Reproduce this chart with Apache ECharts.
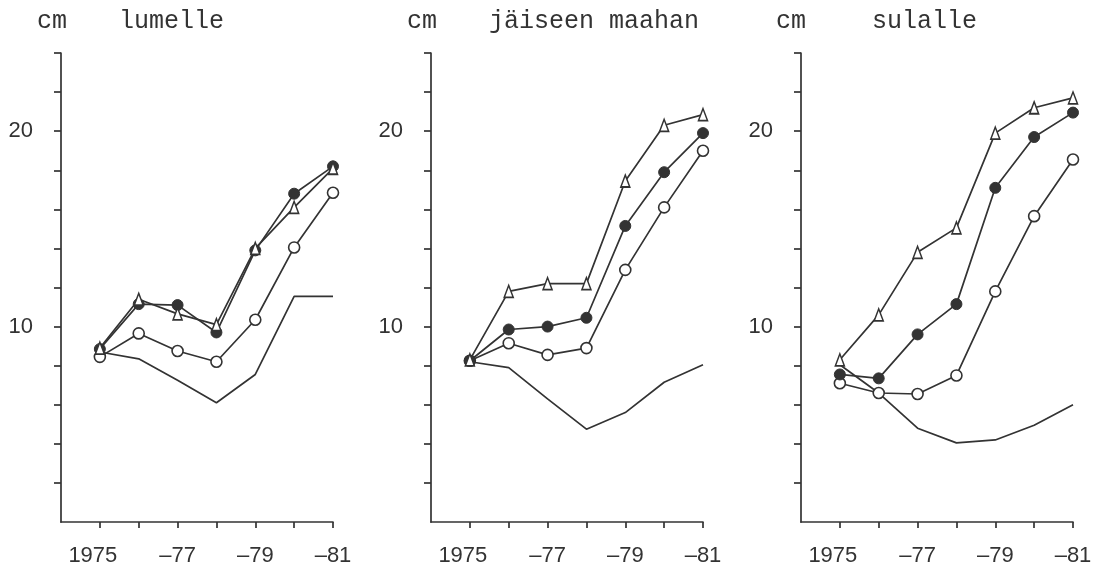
<!DOCTYPE html>
<html>
<head>
<meta charset="utf-8">
<script src="https://cdn.jsdelivr.net/npm/echarts@6/dist/echarts.min.js"></script>
<style>
  html, body { margin: 0; padding: 0; background: #fff; }
  #chart { width: 1104px; height: 572px; }
</style>
</head>
<body>
<div id="chart"></div>
<script>
// Years on the horizontal axis
const years = [1975, 1976, 1977, 1978, 1979, 1980, 1981];
const xTickValues = [1975, 1976, 1977, 1978, 1979, 1980, 1981];
const xLabelValues = [1975, 1977, 1979, 1981];
const yTickValues = [2, 4, 6, 8, 10, 12, 14, 16, 18, 20, 22, 24];
const yLabelValues = [10, 20];

// Panel titles
const panelTitles = ['lumelle', 'jäiseen maahan', 'sulalle'];
const unitLabel = 'cm';

// lumelle (cm)
const lumellePlain  = [8.7, 8.35, 7.25, 6.1, 7.55, 11.55, 11.55];
const lumelleOpen   = [8.45, 9.65, 8.75, 8.2, 10.35, 14.05, 16.85];
const lumelleFilled = [8.85, 11.15, 11.1, 9.7, 13.9, 16.8, 18.2];
const lumelleTri    = [8.9, 11.4, 10.65, 10.1, 14.0, 16.1, 18.1];

// jäiseen maahan (cm)
const jaiseenPlain  = [8.2, 7.9, 6.3, 4.75, 5.6, 7.15, 8.05];
const jaiseenOpen   = [8.25, 9.15, 8.55, 8.9, 12.9, 16.1, 19.0];
const jaiseenFilled = [8.25, 9.85, 10.0, 10.45, 15.15, 17.9, 19.9];
const jaiseenTri    = [8.3, 11.8, 12.2, 12.2, 17.45, 20.3, 20.85];

// sulalle (cm)
const sulallePlain  = [8.05, 6.6, 4.8, 4.05, 4.2, 4.95, 6.0];
const sulalleOpen   = [7.1, 6.6, 6.55, 7.5, 11.8, 15.65, 18.55];
const sulalleFilled = [7.55, 7.35, 9.6, 11.15, 17.1, 19.7, 20.95];
const sulalleTri    = [8.3, 10.6, 13.8, 15.05, 19.9, 21.2, 21.7];

const panels = [
  [lumellePlain, lumelleOpen, lumelleFilled, lumelleTri],
  [jaiseenPlain, jaiseenOpen, jaiseenFilled, jaiseenTri],
  [sulallePlain, sulalleOpen, sulalleFilled, sulalleTri]
];

const ink = '#333';
const textInk = '#333';
const gridLefts = [61, 431, 801];
const unitLefts = [37, 407, 776];
const titleLefts = [119, 489, 872];

const zip = (arr) => years.map((y, i) => [y, arr[i]]);

const grids = [], xAxes = [], yAxes = [], series = [], titles = [];

panels.forEach((p, k) => {
  grids.push({ left: gridLefts[k], top: 53, width: 272, height: 469 });
  xAxes.push({
    type: 'value', gridIndex: k, min: 1974, max: 1981, interval: 1,
    splitLine: { show: false },
    axisLine: { lineStyle: { color: ink, width: 1.7 } },
    axisTick: { customValues: xTickValues, length: 6, lineStyle: { color: ink, width: 1.7 } },
    axisLabel: {
      customValues: xLabelValues, margin: 23,
      fontFamily: 'Liberation Sans', fontSize: 22, color: textInk,
      formatter: v => v === 1975 ? '{a|1975}' : '–' + String(v).slice(2),
      rich: { a: { fontFamily: 'Liberation Sans', fontSize: 22, color: textInk, padding: [0, 14, 0, 0] } }
    }
  });
  yAxes.push({
    type: 'value', gridIndex: k, min: 0, max: 24, interval: 2,
    splitLine: { show: false },
    axisLine: { show: true, lineStyle: { color: ink, width: 1.7 } },
    axisTick: { show: true, customValues: yTickValues, length: 7, lineStyle: { color: ink, width: 1.7 } },
    axisLabel: {
      customValues: yLabelValues, margin: 28,
      fontFamily: 'Liberation Sans', fontSize: 22, color: textInk
    }
  });
  titles.push({
    text: unitLabel, left: unitLefts[k], top: 9, padding: 0,
    textStyle: { fontFamily: 'Liberation Mono', fontSize: 25, fontWeight: 'normal', color: textInk }
  });
  titles.push({
    text: panelTitles[k], left: titleLefts[k], top: 9, padding: 0,
    textStyle: { fontFamily: 'Liberation Mono', fontSize: 25, fontWeight: 'normal', color: textInk }
  });

  const base = { type: 'line', xAxisIndex: k, yAxisIndex: k, animation: false, silent: true,
                 lineStyle: { color: ink, width: 1.7 } };
  series.push(Object.assign({}, base, { data: zip(p[0]), showSymbol: false, symbol: 'none' }));
  series.push(Object.assign({}, base, { data: zip(p[1]), symbol: 'circle', symbolSize: 11,
    itemStyle: { color: '#fff', borderColor: ink, borderWidth: 1.6 } }));
  series.push(Object.assign({}, base, { data: zip(p[2]), symbol: 'circle', symbolSize: 11,
    itemStyle: { color: ink, borderColor: ink, borderWidth: 1 } }));
  series.push(Object.assign({}, base, { data: zip(p[3]), symbol: 'triangle', symbolSize: [9, 12],
    itemStyle: { color: '#fff', borderColor: ink, borderWidth: 1.6 } }));
});

const chart = echarts.init(document.getElementById('chart'), null, { renderer: 'canvas' });
chart.setOption({
  backgroundColor: '#fff',
  animation: false,
  title: titles,
  grid: grids,
  xAxis: xAxes,
  yAxis: yAxes,
  series: series
});
</script>
</body>
</html>
